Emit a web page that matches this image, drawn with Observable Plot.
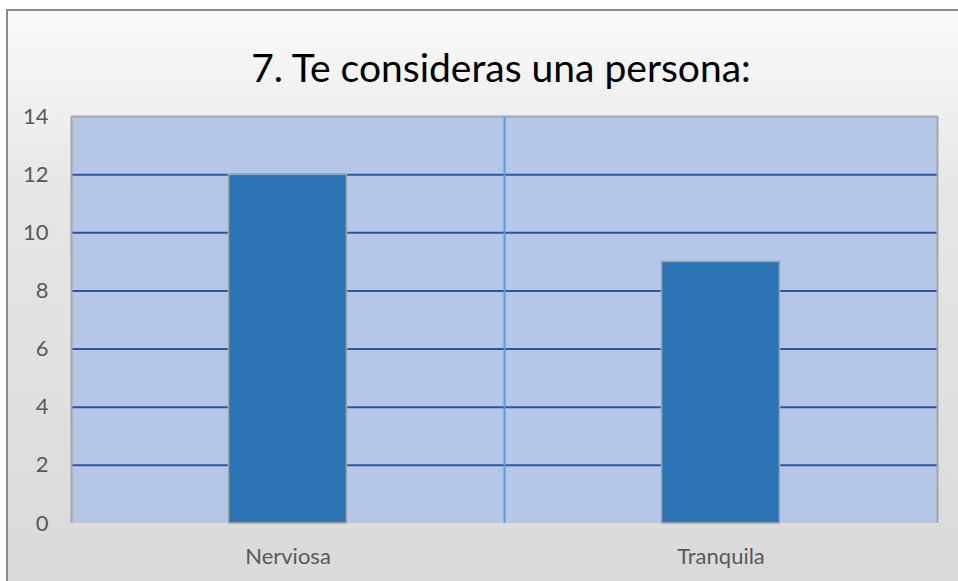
<!DOCTYPE html>
<html>
<head>
<meta charset="utf-8">
<script src="https://cdn.jsdelivr.net/npm/d3@7"></script>
<script src="https://cdn.jsdelivr.net/npm/@observablehq/plot@0.6"></script>
<style>
  html, body { margin: 0; padding: 0; background: #ffffff; width: 958px; height: 581px; overflow: hidden; }
  #frame { position: absolute; left: 6px; top: 9px; width: 970px; height: 600px;
    border-left: 2px solid #8c8c8c; border-top: 2px solid #8c8c8c;
    background: linear-gradient(#fafafa 0%, #e6e6e6 30%, #d9d9d9 100%); }
  #chart { position: absolute; left: 0; top: 0; width: 958px; }
  #title { height: 100px; line-height: 134px; text-align: center; font-family: Lato, sans-serif;
    font-size: 39px; color: #000; padding-left: 44px; box-sizing: border-box; white-space: nowrap; }
  #chart svg text { font-size: 22px !important; fill: #595959; font-family: Lato, sans-serif; }
</style>
</head>
<body>
<div id="frame"></div>
<div id="chart"><div id="title">7. Te consideras una persona:</div></div>
<script>
const categories = ["Nerviosa", "Tranquila"];
const values = [12, 9];
const yTicks = [0, 2, 4, 6, 8, 10, 12, 14];
const gridValues = [2, 4, 6, 8, 10, 12];

const data = categories.map((c, i) => ({category: c, value: values[i]}));

const W = 958, H = 481, ML = 71, MR = 21, MT = 16, MB = 58;
const bandWidth = (W - ML - MR) / categories.length;
const barWidth = 118;
const inset = (bandWidth - barWidth) / 2;

const plot = Plot.plot({
  width: W,
  height: H,
  marginLeft: ML,
  marginRight: MR,
  marginTop: MT,
  marginBottom: MB,
  style: { background: "transparent", fontFamily: "Lato, sans-serif", color: "#595959", overflow: "visible" },
  x: { domain: categories, padding: 0, label: null },
  y: { domain: [0, 14], label: null },
  marks: [
    Plot.barY(categories, { x: d => d, y: 14, fill: "#b4c7e7" }),
    Plot.ruleY(gridValues, { stroke: "#2f55a0", strokeWidth: 2 }),
    Plot.ruleX(categories.slice(1), { x: d => d, dx: -bandWidth / 2, stroke: "#5b9bd5", strokeWidth: 2 }),
    Plot.barY(data, { x: "category", y: "value", fill: "#2e75b6", stroke: "#a6a6a6", strokeWidth: 1.5, insetLeft: inset, insetRight: inset }),
    Plot.ruleY([14], { stroke: "#a6a6a6", strokeWidth: 2 }),
    Plot.ruleX([categories[0]], { x: d => d, dx: -bandWidth / 2, stroke: "#a6a6a6", strokeWidth: 2 }),
    Plot.ruleX([categories[categories.length - 1]], { x: d => d, dx: bandWidth / 2, stroke: "#a6a6a6", strokeWidth: 2 }),
    Plot.axisX({ tickSize: 0, tickPadding: 25, label: null }),
    Plot.axisY({ ticks: yTicks, tickSize: 0, tickPadding: 23, label: null })
  ]
});
document.getElementById("chart").appendChild(plot);
</script>
</body>
</html>
